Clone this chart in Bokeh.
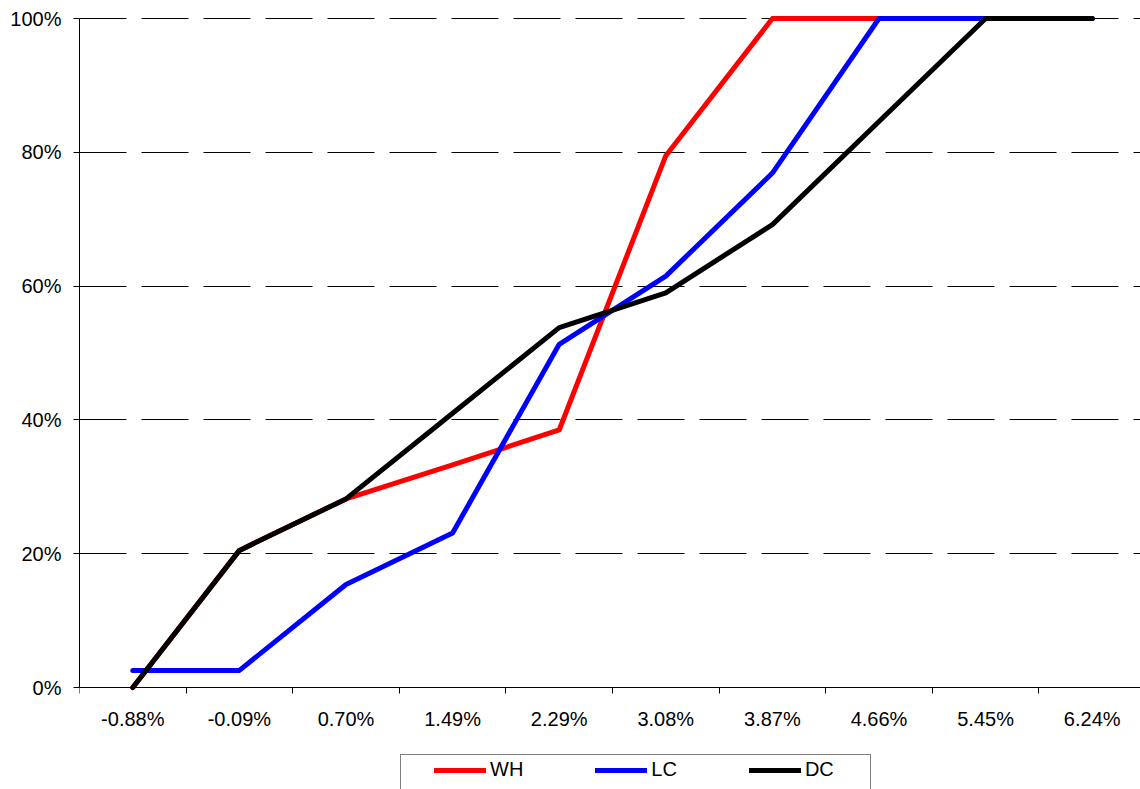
from bokeh.plotting import figure
from bokeh.models import FixedTicker, Range1d, Legend, LegendItem
from bokeh.core.properties import value
from bokeh.embed import file_html
from bokeh.resources import INLINE

categories = ["-0.88%", "-0.09%", "0.70%", "1.49%", "2.29%", "3.08%", "3.87%", "4.66%", "5.45%", "6.24%"]
wh = [0.0, 20.5, 28.2, 33.3, 38.5, 79.5, 100.0, 100.0, 100.0, 100.0]
lc = [2.56, 2.56, 15.4, 23.1, 51.3, 61.5, 76.9, 100.0, 100.0, 100.0]
dc = [0.0, 20.5, 28.2, 41.0, 53.8, 59.0, 69.2, 84.6, 100.0, 100.0]
y_ticks = [0, 20, 40, 60, 80, 100]
y_labels = ["0%", "20%", "40%", "60%", "80%", "100%"]

FONT = "Liberation Sans"
xs = [i + 0.5 for i in range(len(categories))]

p = figure(width=1140, height=789, output_backend="svg", toolbar_location=None,
           x_range=Range1d(0, 9.953), y_range=Range1d(-15.24, 101.5),
           min_border_left=79, min_border_right=0, min_border_top=8, min_border_bottom=0)
p.outline_line_color = None
p.background_fill_color = "white"

# axes
xa = p.xaxis[0]
xa.fixed_location = 0
xa.ticker = FixedTicker(ticks=xs, minor_ticks=list(range(len(categories) + 1)))
xa.major_label_overrides = {x: c for x, c in zip(xs, categories)}
xa.major_tick_out = 0
xa.major_tick_in = 0
xa.minor_tick_out = 6
xa.minor_tick_in = 0
xa.minor_tick_line_color = "black"
xa.axis_line_color = "black"
xa.major_label_text_font = FONT
xa.major_label_text_font_size = "20px"
xa.major_label_text_color = "black"
xa.major_label_standoff = 14

ya = p.yaxis[0]
ya.ticker = FixedTicker(ticks=y_ticks, minor_ticks=[])
ya.major_label_overrides = {t: l for t, l in zip(y_ticks, y_labels)}
ya.bounds = (0, 100)
ya.major_tick_out = 6
ya.major_tick_in = 0
ya.major_tick_line_color = "black"
ya.axis_line_color = "black"
ya.major_label_text_font = FONT
ya.major_label_text_font_size = "20px"
ya.major_label_text_color = "black"
ya.major_label_standoff = 12

p.xgrid.visible = False
p.ygrid.ticker = FixedTicker(ticks=y_ticks)
p.ygrid.grid_line_color = "black"
p.ygrid.grid_line_width = 1
p.ygrid.grid_line_dash = "47 15"

lw = 5
r_wh = p.line(xs, wh, line_color="#FF0000", line_width=lw, line_join="round", line_cap="round")
r_lc = p.line(xs, lc, line_color="#0000FF", line_width=lw, line_join="round", line_cap="round")
r_dc = p.line(xs, dc, line_color="#000000", line_width=lw, line_join="round", line_cap="round")
r_dummy = p.line(x=[], y=[], line_alpha=0)

box = Legend(items=[LegendItem(label=value(""), renderers=[r_dummy])],
             location=(320.5, -6.5), padding=0, margin=0, glyph_width=469, glyph_height=40,
             label_height=40, label_standoff=0, label_width=0, spacing=0,
             border_line_color="black", border_line_width=1,
             background_fill_color="white", background_fill_alpha=1.0)
p.add_layout(box, "center")

leg = Legend(items=[LegendItem(label="WH", renderers=[r_wh]),
                    LegendItem(label="LC", renderers=[r_lc]),
                    LegendItem(label="DC", renderers=[r_dc])],
             location=(355, 8), orientation="horizontal", padding=0, margin=0,
             spacing=72, glyph_width=52, glyph_height=20, label_height=20,
             label_standoff=4, label_text_font=FONT, label_text_font_size="20px",
             label_text_color="black",
             border_line_color=None, background_fill_alpha=0)
p.add_layout(leg, "center")

open("out.html", "w").write(file_html(p, INLINE))
